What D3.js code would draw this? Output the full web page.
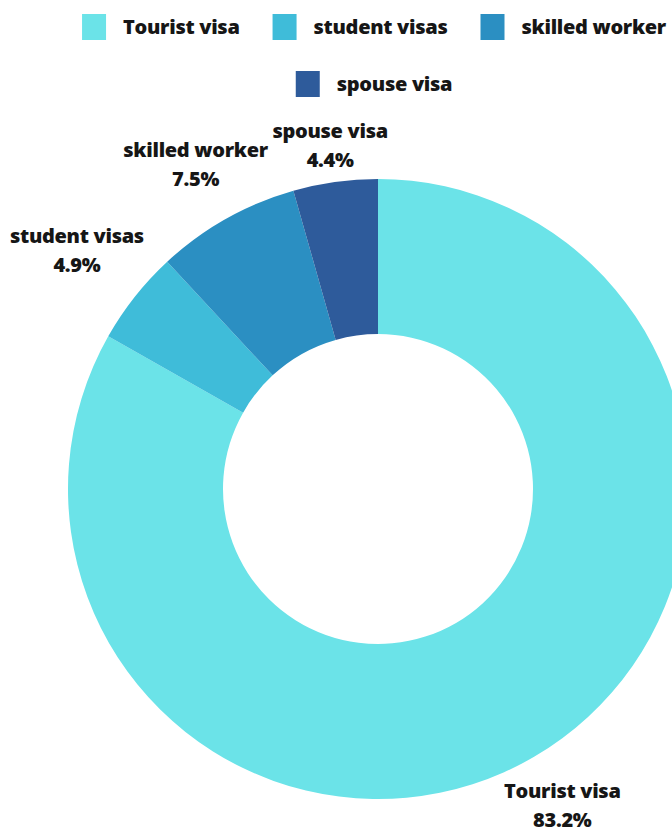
<!DOCTYPE html>
<html>
<head>
<meta charset="utf-8">
<script src="https://cdn.jsdelivr.net/npm/d3@7"></script>
<style>
  body { margin: 0; background: #fff; }
  text { font-family: "Open Sans", sans-serif; font-weight: 800; fill: #161616; letter-spacing: -0.3px; }
</style>
</head>
<body>
<svg id="chart"></svg>
<script>
var categories = ["Tourist visa", "student visas", "skilled worker", "spouse visa"];
var shares = [83.2, 4.9, 7.5, 4.4];
var shareLabels = ["83.2%", "4.9%", "7.5%", "4.4%"];
var colours = ["#6be3e8", "#3fbcd9", "#2b8fc2", "#2e5b9b"];

var width = 672, height = 828,
    cx = 378, cy = 489,
    outerR = 310, innerR = 155,
    fontSize = 20;

var svg = d3.select("#chart").attr("width", width).attr("height", height);

var color = d3.scaleOrdinal().domain(categories).range(colours);

// legend, centred rows that wrap
var legend = svg.append("g");
var sq = 24, sqGap = 17, itemGap = 33, maxRow = 640, rowH = 57, firstRow = 27;
var items = categories.map(function (c) {
  var g = legend.append("g");
  g.append("rect").attr("width", sq).attr("height", sq + 2).attr("y", -(sq + 2) / 2)
    .attr("fill", color(c));
  var t = g.append("text").attr("x", sq + sqGap).attr("dy", "0.35em")
    .style("font-size", fontSize + "px").text(c);
  return { g: g, w: sq + sqGap + t.node().getComputedTextLength() };
});
var rows = [[]], rowW = 0;
items.forEach(function (it) {
  var add = rows[rows.length - 1].length ? itemGap + it.w : it.w;
  if (rowW + add > maxRow) { rows.push([it]); rowW = it.w; }
  else { rows[rows.length - 1].push(it); rowW += add; }
});
rows.forEach(function (row, ri) {
  var total = d3.sum(row, function (d) { return d.w; }) + itemGap * (row.length - 1);
  var x = cx - total / 2 - 4;
  row.forEach(function (it) {
    it.g.attr("transform", "translate(" + x + "," + (firstRow + ri * rowH) + ")");
    x += it.w + itemGap;
  });
});

// donut
var pie = d3.pie().sort(null).value(function (d) { return d; });
var arc = d3.arc().innerRadius(innerR).outerRadius(outerR);
var arcs = pie(shares);

var g = svg.append("g").attr("transform", "translate(" + cx + "," + cy + ")");
g.selectAll("path")
  .data(arcs)
  .enter()
  .append("path")
  .attr("fill", function (d, i) { return color(categories[i]); })
  .attr("d", arc);

// labels pushed out along each slice's mid line until the box clears the ring
var anchorR = 318, lineGap = 29, boxH = lineGap + 14;
arcs.forEach(function (d, i) {
  var a = (d.startAngle + d.endAngle) / 2,
      ux = Math.sin(a), uy = -Math.cos(a);
  var lg = g.append("g").attr("text-anchor", "middle").style("font-size", fontSize + "px");
  lg.append("text").attr("y", -lineGap / 2).attr("dy", "0.35em").text(categories[i]);
  lg.append("text").attr("y", lineGap / 2).attr("dy", "0.35em").text(shareLabels[i]);
  var w = lg.node().getBBox().width;
  var off = anchorR + (w / 2) * Math.abs(ux) + (boxH / 2) * Math.abs(uy);
  lg.attr("transform", "translate(" + (off * ux) + "," + (off * uy) + ")");
});
</script>
</body>
</html>
